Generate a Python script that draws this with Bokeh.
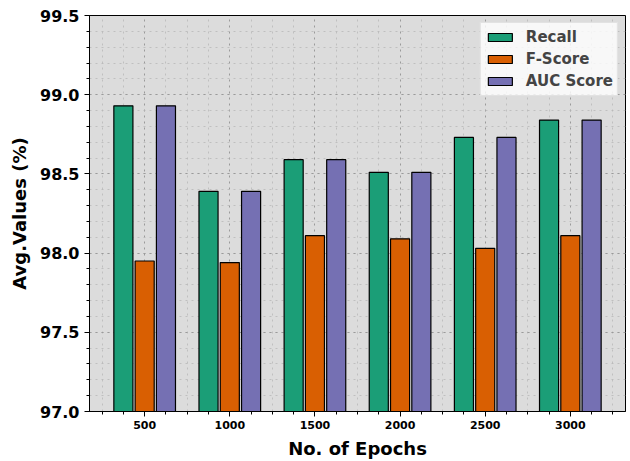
from bokeh.plotting import figure
from bokeh.models import ColumnDataSource, Range1d, FixedTicker, Legend, LegendItem, CustomJSTickFormatter
from bokeh.transform import dodge
from bokeh.embed import file_html
from bokeh.resources import INLINE

# Training epochs and the averaged metric values (%) at each checkpoint
epochs = [500, 1000, 1500, 2000, 2500, 3000]
recall = [98.93, 98.39, 98.59, 98.51, 98.73, 98.84]
f_score = [97.95, 97.94, 98.11, 98.09, 98.03, 98.11]
auc_score = [98.93, 98.39, 98.59, 98.51, 98.73, 98.84]

series_names = ["Recall", "F-Score", "AUC Score"]
series_colors = ["#1b9e77", "#d95f02", "#7570b3"]

src = ColumnDataSource(dict(epochs=epochs, recall=recall, fscore=f_score, auc=auc_score))

FONT = "DejaVu Sans"

p = figure(width=630, height=461, output_backend="svg", toolbar_location=None,
           x_range=Range1d(176, 3324), y_range=Range1d(97.0, 99.5),
           min_border_left=89, min_border_right=5, min_border_top=15, min_border_bottom=49)

p.background_fill_color = "#dcdcdc"
p.border_fill_color = "white"
p.outline_line_color = "black"
p.outline_line_width = 1

# three grouped bars per epoch checkpoint
offset = 125
bar_w = 112
renderers = []
for col, off, color in zip(["recall", "fscore", "auc"], [-offset, 0, offset], series_colors):
    r = p.vbar(x=dodge("epochs", off, range=p.x_range), top=col, bottom=97.0, width=bar_w,
               source=src, fill_color=color, line_color="black", line_width=1.2)
    renderers.append(r)

# axes and ticks
x_minor = [x for x in range(250, 3324, 125) if x % 500 != 0]
p.xaxis.ticker = FixedTicker(ticks=epochs, minor_ticks=x_minor)
y_minor = [round(97.0 + 0.1 * i, 1) for i in range(26)]
p.yaxis.ticker = FixedTicker(ticks=[97.0, 97.5, 98.0, 98.5, 99.0, 99.5], minor_ticks=y_minor)
p.yaxis.formatter = CustomJSTickFormatter(code="return tick.toFixed(1);")

for ax in (p.xaxis, p.yaxis):
    ax.axis_line_color = "black"
    ax.major_tick_line_color = "black"
    ax.minor_tick_line_color = "black"
    ax.major_tick_in = 0
    ax.major_tick_out = 5
    ax.minor_tick_in = 0
    ax.minor_tick_out = 3
    ax.major_label_text_font = FONT
    ax.major_label_text_font_style = "bold"
    ax.major_label_text_color = "black"
    ax.axis_label_text_font = FONT
    ax.axis_label_text_font_style = "bold"
    ax.axis_label_text_color = "black"
    ax.axis_label_text_font_size = "18px"

p.xaxis.major_label_text_font_size = "11px"
p.yaxis.major_label_text_font_size = "16px"
p.xaxis.major_label_standoff = 4
p.yaxis.major_label_standoff = 5
p.xaxis.axis_label = "No. of Epochs"
p.yaxis.axis_label = "Avg.Values (%)"
p.xaxis.axis_label_standoff = 6
p.yaxis.axis_label_standoff = 7

# dotted major and minor grid
p.grid.grid_line_color = "#9a9a9a"
p.grid.grid_line_dash = "dotted"
p.grid.grid_line_width = 1
p.grid.minor_grid_line_color = "#b8b8b8"
p.grid.minor_grid_line_dash = "dotted"
p.grid.minor_grid_line_width = 0.8

legend = Legend(items=[LegendItem(label=n, renderers=[r]) for n, r in zip(series_names, renderers)],
                location="top_right")
legend.label_text_font = FONT
legend.label_text_font_style = "bold"
legend.label_text_font_size = "15px"
legend.glyph_width = 30
legend.glyph_height = 10
legend.label_height = 20
legend.spacing = 2
legend.padding = 4
legend.margin = 7
legend.label_standoff = 11
legend.background_fill_color = "white"
legend.background_fill_alpha = 0.8
legend.border_line_color = "#cccccc"
legend.border_line_width = 1
p.add_layout(legend)

open("out.html", "w").write(file_html(p, INLINE))
